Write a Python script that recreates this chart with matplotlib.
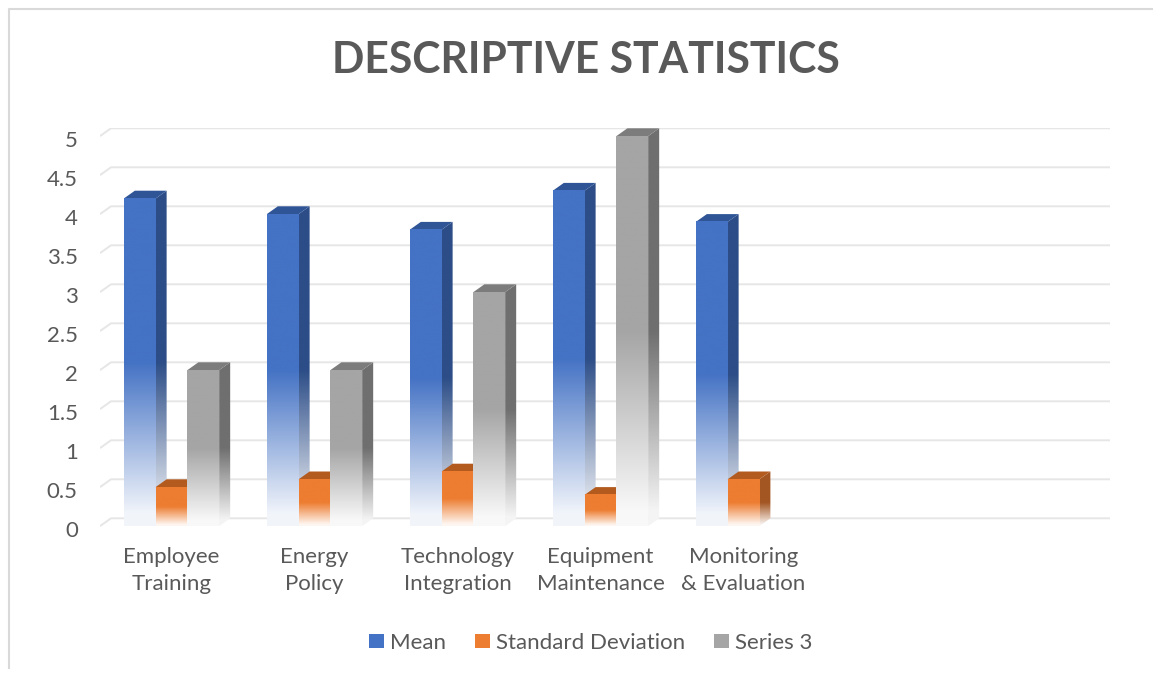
import matplotlib.pyplot as plt
import numpy as np
from matplotlib.colors import to_rgb
from matplotlib.patches import Polygon, Patch
from matplotlib.lines import Line2D

## data
categories = ["Employee\nTraining", "Energy\nPolicy", "Technology\nIntegration",
              "Equipment\nMaintenance", "Monitoring\n& Evaluation"]
mean = [4.2, 4.0, 3.8, 4.3, 3.9]
std_dev = [0.5, 0.6, 0.7, 0.4, 0.6]
series3 = [2, 2, 3, 5, np.nan]
series_names = ["Mean", "Standard Deviation", "Series 3"]
yticks = np.arange(0, 5.01, 0.5)

n_slots = 7          # the sheet range has two empty categories on the right
DX, DY = 0.077, 0.10 # fake 3d depth in data units

face_col = ["#4472C4", "#ED7D31", "#A5A5A5"]
side_col = ["#2C4D87", "#A35622", "#6F6F6F"]
top_col = ["#2F5597", "#B35B1F", "#7C7C7C"]
txt = "#595959"

plt.rcParams['font.family'] = ['Lato', 'DejaVu Sans']


def fade(color, t):
    # excel style gradient: white at the floor, full colour from half height up
    a = np.clip(t / 0.5, 0.07, 1.0)[:, None]
    rgb = np.array(to_rgb(color))[None, :]
    return (1 - a) * 1.0 + a * rgb


def draw_bar(ax, x0, w, v, i, z):
    if np.isnan(v):
        return
    n = 200
    # side face
    sy = np.linspace(-DY, v, n)
    img = fade(side_col[i], (sy + DY) / v)[:, None, :]
    poly = Polygon([(x0 + w, -DY), (x0 + w + DX, 0), (x0 + w + DX, v), (x0 + w, v - DY)],
                   closed=True, transform=ax.transData)
    im = ax.imshow(img, extent=(x0 + w, x0 + w + DX, -DY, v), origin='lower',
                   aspect='auto', interpolation='bilinear', zorder=z)
    im.set_clip_path(poly)
    # top face
    ax.add_patch(Polygon([(x0, v - DY), (x0 + DX, v), (x0 + w + DX, v), (x0 + w, v - DY)],
                         closed=True, facecolor=top_col[i], edgecolor='none', zorder=z))
    # front face
    fy = np.linspace(0, 1, n)
    img = fade(face_col[i], fy)[:, None, :]
    ax.imshow(img, extent=(x0, x0 + w, -DY, v - DY), origin='lower',
              aspect='auto', interpolation='bilinear', zorder=z + 0.01)


fig = plt.figure(figsize=(11.53, 6.78), dpi=100)
ax = fig.add_axes([100 / 1153, 1 - 530 / 678, 1010 / 1153, 401.7 / 678])

xmax = n_slots + DX - 0.014
# gridlines on the back wall with the little slanted bit on the side wall
for v in yticks:
    ax.plot([0, DX, xmax], [v - DY, v, v], color='#E6E6E6', lw=1.4, zorder=1,
            solid_capstyle='butt')

bw = 1 / (3 + 1.5)   # 150% gap width
for k in range(len(categories)):
    vals = [mean[k], std_dev[k], series3[k]]
    for i, v in enumerate(vals):
        x0 = k + 0.5 - 1.5 * bw + i * bw
        draw_bar(ax, x0, bw, v, i, 2 + k + i * 0.1)

ax.set_xlim(0, xmax)
ax.set_ylim(-0.15, 5.0)
ax.set_yticks(yticks - 0.14)
ax.set_yticklabels(["%g" % v for v in yticks])
ax.set_xticks(np.arange(len(categories)) + 0.5)
ax.set_xticklabels(categories, linespacing=1.45)
ax.tick_params(axis='y', length=0, pad=16, labelsize=16, labelcolor=txt)
ax.tick_params(axis='x', length=0, pad=12, labelsize=16, labelcolor=txt)
for s in ax.spines.values():
    s.set_visible(False)
ax.set_facecolor('none')

fig.text(586 / 1153, 1 - 60 / 678, "DESCRIPTIVE STATISTICS", ha='center', va='center',
         fontsize=30.7, fontweight='bold', color=txt)

handles = [Patch(facecolor=c, edgecolor='none') for c in face_col]
fig.legend(handles, series_names, loc='center', bbox_to_anchor=(591 / 1153, 1 - 643 / 678),
           ncol=3, frameon=False, fontsize=16, labelcolor=txt, handlelength=0.65,
           handleheight=0.6, handletextpad=0.3, columnspacing=1.3)

# chart frame, only top and left edges are in the capture
fig.add_artist(Line2D([9 / 1153, 9 / 1153, 1], [1 - 668 / 678, 1 - 9 / 678, 1 - 9 / 678],
                      transform=fig.transFigure, color='#D9D9D9', lw=1.5))

fig.savefig('out.png', dpi=100)
